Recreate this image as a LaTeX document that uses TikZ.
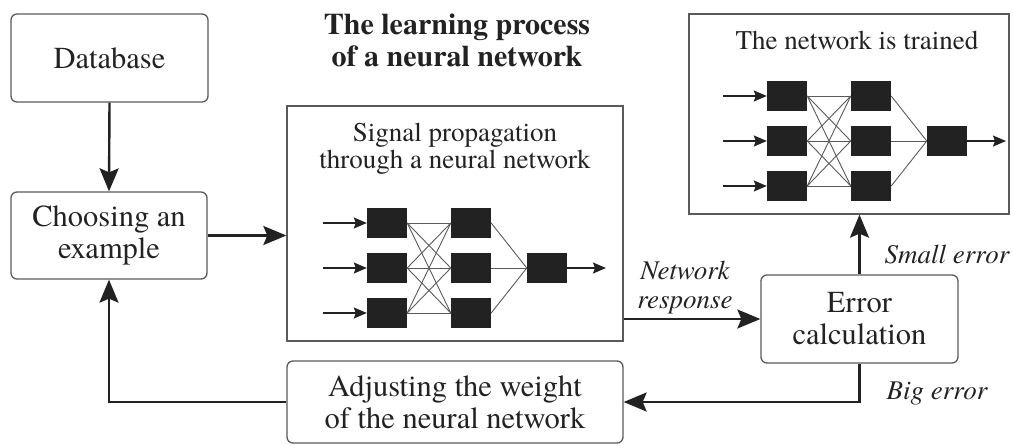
\documentclass[tikz,border=0pt]{standalone}
\usepackage{fontspec}
\setmainfont{texgyretermes}[Extension=.otf, UprightFont=*-regular, BoldFont=*-bold, ItalicFont=*-italic, BoldItalicFont=*-bolditalic]
\usetikzlibrary{arrows.meta}
\definecolor{ink}{HTML}{222222}
\definecolor{edgec}{HTML}{5A5A5A}
\begin{document}
\begin{tikzpicture}[x=1pt,y=-1pt,
  box/.style={draw=edgec, line width=1.3pt, rounded corners=6pt, align=center,
    font=\fontsize{30.5}{32}\selectfont, text=ink, inner sep=0pt},
  panel/.style={draw=edgec, line width=1.3pt, inner sep=0pt},
  flow/.style={draw=ink, line width=2.4pt, -{Stealth[length=23pt,width=19pt,inset=4pt]}},
  neuron/.style={fill=ink, minimum width=40pt, minimum height=30pt, inner sep=0pt},
  link/.style={draw=edgec, line width=0.9pt},
  sig/.style={draw=ink, line width=1.4pt, -{Stealth[length=13pt,width=11pt,inset=2pt]}},
  lab/.style={font=\fontsize{27}{29}\selectfont\itshape, text=ink, align=center, inner sep=0pt},
  ptext/.style={font=\fontsize{27}{27}\selectfont, text=ink, align=center, inner sep=0pt}
]
\useasboundingbox (0,0) rectangle (1013,445);

% title
\node[font=\fontsize{30}{32}\selectfont\bfseries, text=ink, align=center, inner sep=0pt]
  (title) at (457,40) {The learning process\\of a neural network};

% boxes
\node[box, minimum width=197pt, minimum height=88pt] (db) at (109.5,58) {Database};
\node[box, minimum width=196pt, minimum height=87pt] (choose) at (109,235.5) {Choosing an\\example};
\node[panel, minimum width=336pt, minimum height=235pt] (signal) at (455,223.5) {};
\node[ptext] (sigtext) at (455,149) {Signal propagation\\through a neural network};
\node[box, minimum width=336pt, minimum height=82pt] (adjust) at (455,402) {Adjusting the weight\\of the neural network};
\node[box, minimum width=197pt, minimum height=88pt] (err) at (859.5,319) {Error\\calculation};
\node[panel, minimum width=320pt, minimum height=200pt] (trained) at (849,114) {};
\node[ptext] (trtext) at (857,40) {The network is trained};

% networks
\foreach \pre/\sx/\sy in {s-/323/268, t-/723/141} {
\begin{scope}[shift={(\sx,\sy)}, name prefix=\pre]
  \foreach \r/\yy in {a/-45,b/0,c/45} {
    \node[neuron] (h1\r) at (64,\yy) {};
    \node[neuron] (h2\r) at (148,\yy) {};
    \coordinate (in\r) at (0,\yy);
  }
  \node[neuron] (out) at (224,0) {};
  \coordinate (end) at (283,0);
  \foreach \r in {a,b,c} {
    \draw[sig] (in\r) -- (h1\r);
    \foreach \q in {a,b,c} \draw[link] (h1\r.east) -- (h2\q.west);
    \draw[link] (h2\r.east) -- (out.west);
  }
  \draw[sig] (out) -- (end);
\end{scope}
}

% connectors
\draw[flow] (db.south) -- (choose.north);
\draw[flow] (choose.east) -- (choose.east -| signal.west);
\draw[flow] (err.west -| signal.east) -- (err.west);
\draw[flow] (err.south) |- (adjust.east);
\draw[flow] (adjust.west) -| (choose.south);
\draw[flow] (err.north) -- (err.north |- trained.south);

% labels
\node[lab] (resp) at (685,288) {Network\\response};
\node[lab] (small) at (947,255) {Small error};
\node[lab] (big) at (937,393) {Big error};
\end{tikzpicture}
\end{document}
